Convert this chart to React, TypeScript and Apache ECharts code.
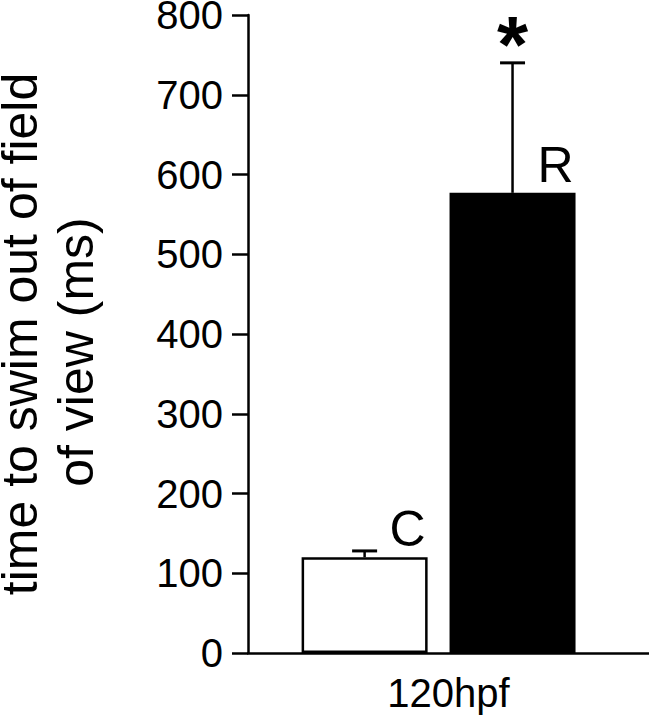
import React, { useEffect, useRef } from "react";
import * as echarts from "echarts";

const groups = ["120hpf"];
const conditions = ["C", "R"];
const means = [120, 577];
const upperErrors = [128, 740];
const significance = ["", "*"];
const yMin = 0;
const yMax = 800;
const yInterval = 100;
const yTitleLine1 = "time to swim out of field";
const yTitleLine2 = "of view (ms)";

const FONT = "Liberation Sans, Arial, Helvetica, sans-serif";

export default function App() {
  const ref = useRef<HTMLDivElement>(null);
  useEffect(() => {
    if (!ref.current) return;
    const chart = echarts.init(ref.current, null, { renderer: "svg" });
    const axisLineStyle = { color: "#000", width: 2.5 };
    const option: any = {
      animation: false,
      backgroundColor: "#fff",
      textStyle: { fontFamily: FONT, color: "#000" },
      grid: [
        { left: 248, right: 0, top: 15, bottom: 67, outerBoundsMode: "none", containLabel: false },
        {
          left: 290.65,
          right: 62.5,
          top: 15,
          bottom: 67,
          outerBoundsMode: "none",
          containLabel: false,
        },
      ],
      xAxis: [
        {
          type: "category",
          gridIndex: 0,
          data: groups,
          axisLine: { show: true, lineStyle: axisLineStyle },
          axisTick: { show: false },
          axisLabel: { fontSize: 40, color: "#000", fontFamily: FONT, margin: 20 },
          splitLine: { show: false },
        },
        {
          type: "category",
          gridIndex: 1,
          data: conditions,
          show: false,
        },
      ],
      yAxis: [
        {
          type: "value",
          gridIndex: 0,
          min: yMin,
          max: yMax,
          interval: yInterval,
          axisLine: { show: true, lineStyle: axisLineStyle },
          axisTick: { show: true, length: 16, lineStyle: axisLineStyle },
          axisLabel: {
            fontSize: 40,
            lineHeight: 24,
            color: "#000",
            fontFamily: FONT,
            margin: 25,
          },
          splitLine: { show: false },
          name: `{a|${yTitleLine1}}\n{b|${yTitleLine2}}`,
          nameLocation: "middle",
          nameRotate: 90,
          nameGap: 132,
          nameMoveOverlap: false,
          nameTextStyle: {
            fontSize: 50,
            color: "#000",
            fontFamily: FONT,
            rich: {
              a: { fontSize: 50, lineHeight: 32, fontFamily: FONT, color: "#000" },
              b: {
                fontSize: 50,
                lineHeight: 80,
                fontFamily: FONT,
                color: "#000",
                padding: [0, 36, 0, 0],
              },
            },
          },
        },
        {
          type: "value",
          gridIndex: 1,
          min: yMin,
          max: yMax,
          interval: yInterval,
          show: false,
        },
      ],
      series: [
        {
          type: "bar",
          xAxisIndex: 1,
          yAxisIndex: 1,
          barWidth: 126,
          data: means.map((v, i) => ({
            value: v,
            itemStyle:
              i === 0
                ? { color: "#fff", borderColor: "#000", borderWidth: 2.5 }
                : { color: "#000", borderColor: "#000", borderWidth: 0 },
          })),
          label: {
            show: true,
            formatter: "{b}",
            position: ["100%", 0],
            align: "right",
            verticalAlign: "bottom",
            offset: [-2, -3],
            fontSize: 50,
            color: "#000",
            fontFamily: FONT,
          },
        },
        {
          type: "custom",
          xAxisIndex: 1,
          yAxisIndex: 1,
          data: means.map((m, i) => [i, m, upperErrors[i]]),
          encode: { x: 0, y: 2 },
          renderItem: (params: any, api: any) => {
            const x = api.value(0);
            const mean = api.value(1);
            const upper = api.value(2);
            const p0 = api.coord([x, mean]);
            const p1 = api.coord([x, upper]);
            const mark = significance[params.dataIndex];
            return {
              type: "group",
              children: [
                {
                  type: "line",
                  shape: { x1: p0[0], y1: p0[1], x2: p1[0], y2: p1[1] },
                  style: { stroke: "#000", lineWidth: 2.5 },
                },
                {
                  type: "line",
                  shape: { x1: p1[0] - 12.5, y1: p1[1], x2: p1[0] + 12.5, y2: p1[1] },
                  style: { stroke: "#000", lineWidth: 3 },
                },
                {
                  type: "text",
                  x: p1[0],
                  y: p1[1] - 18,
                  style: {
                    text: mark,
                    fontSize: 80,
                    fontWeight: "bold",
                    fontFamily: FONT,
                    align: "center",
                    verticalAlign: "middle",
                    fill: "#000",
                  },
                },
              ],
            };
          },
        },
      ],
    };
    chart.setOption(option);
    return () => chart.dispose();
  }, []);
  return (
    <div
      ref={ref}
      style={{ position: "fixed", left: 0, top: 0, width: 649, height: 720, background: "#fff" }}
    />
  );
}
